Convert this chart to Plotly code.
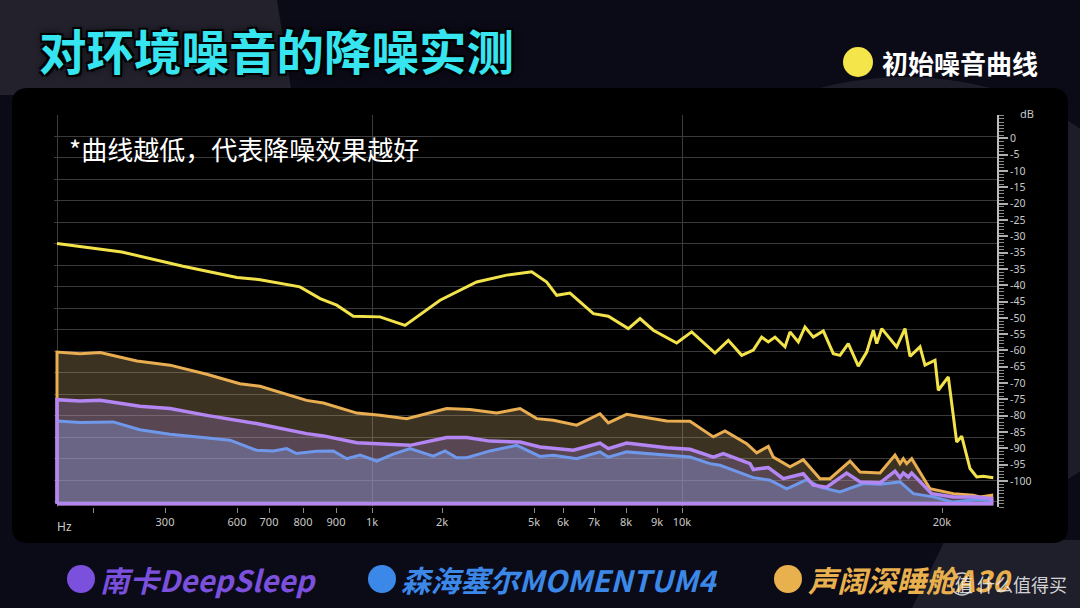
import numpy as np
import plotly.graph_objects as go

# ------------------------------------------------------------------ data
# frequencies (Hz) and levels (dB)
YELLOW_HZ = [100, 240, 375, 600, 672, 791, 852, 902, 948, 1114, 1472, 1972, 3131, 4109, 4924,
             5438, 5783, 6226, 6979, 7447, 8074, 8452, 8882, 9788, 10373, 11269, 11781, 12296,
             12742, 13065, 13319, 13577, 13962, 14154, 14473, 14731, 15050, 15435, 15820, 16077,
             16396, 16781, 17104, 17358, 17489, 17681, 18258, 18577, 18769, 19154, 19346, 19731,
             19858, 20458, 21069, 21432, 22036, 22523, 23003, 23730]
YELLOW_DB = [-27.2, -29.8, -34.2, -37.6, -38.3, -40.5, -44.1, -46.1, -49.5, -49.7, -52.3, -44.6,
             -39.0, -36.9, -35.9, -39.0, -43.1, -42.4, -48.7, -49.5, -53.3, -50.2, -53.8, -57.7,
             -54.3, -60.8, -56.9, -61.5, -59.9, -55.9, -57.4, -55.9, -58.9, -54.3, -57.4, -52.8,
             -55.9, -54.0, -61.0, -61.5, -57.9, -64.8, -60.5, -53.8, -57.9, -53.3, -58.9, -53.3,
             -61.8, -58.9, -64.5, -63.0, -72.2, -68.1, -88.1, -86.3, -96.2, -98.8, -98.6, -99.0]

ORANGE_HZ = [100, 164, 210, 261, 321, 474, 609, 672, 811, 862, 958, 1114, 1496, 2153, 2913,
             3784, 4544, 5093, 5666, 6442, 7188, 7447, 8022, 9388, 10308, 11204, 11654, 12488,
             12873, 13319, 13512, 14154, 14665, 15308, 15692, 16462, 16846, 17616, 18193, 18385,
             18512, 18642, 18835, 19538, 20822, 22276, 22763, 23614]
ORANGE_DB = [-60.5, -61.0, -60.6, -63.2, -64.5, -67.3, -70.2, -71.0, -75.3, -76.1, -79.2, -79.9,
             -80.9, -77.8, -78.1, -79.2, -77.8, -80.9, -81.4, -82.9, -79.4, -82.2, -79.6, -81.6,
             -81.7, -86.5, -84.7, -88.6, -91.4, -89.4, -92.7, -95.7, -93.5, -99.3, -99.3, -93.9,
             -97.3, -97.6, -92.1, -94.7, -93.2, -94.7, -93.2, -102.4, -103.9, -104.4, -104.9, -104.4]

PURPLE_HZ = [100, 164, 210, 265, 321, 474, 609, 661, 811, 862, 958, 1114, 1543, 2153, 2805,
             3565, 4544, 5207, 6333, 7188, 7447, 8022, 9388, 10308, 11204, 11589, 12615, 12742,
             13319, 13896, 14665, 15050, 15565, 16334, 16846, 17616, 18193, 18385, 18512, 18704,
             18835, 19604, 20822, 22523, 23614]
PURPLE_DB = [-75.1, -75.5, -75.3, -77.1, -77.8, -79.9, -81.6, -82.4, -85.5, -86.2, -88.3, -88.6,
             -89.1, -86.7, -86.7, -87.8, -88.1, -89.6, -90.6, -88.4, -90.1, -88.4, -89.8, -90.3,
             -92.7, -91.6, -94.7, -96.5, -95.9, -99.3, -97.8, -101.3, -101.9, -97.6, -100.3,
             -100.6, -97.0, -99.0, -97.6, -98.8, -97.6, -103.9, -104.9, -104.9, -105.4]

BLUE_HZ = [100, 164, 228, 265, 321, 446, 571, 661, 713, 752, 781, 841, 892, 930, 967, 1067,
           1304, 1543, 1876, 2098, 2479, 2805, 3565, 4435, 5207, 5666, 6442, 7188, 7447, 8022,
           9920, 10308, 11077, 11462, 12742, 13385, 14027, 14796, 15308, 16077, 16973, 17616,
           18385, 18897, 19666, 20822, 22523, 23614]
BLUE_DB = [-81.6, -82.1, -81.9, -84.3, -85.7, -86.7, -87.5, -90.6, -90.8, -90.1, -91.6, -90.9,
           -90.8, -93.2, -92.1, -93.9, -91.8, -90.1, -92.4, -90.8, -92.9, -92.9, -90.8, -89.1,
           -92.5, -92.1, -93.2, -91.1, -92.7, -91.1, -92.5, -92.7, -94.7, -95.2, -99.0, -99.8,
           -102.4, -99.6, -101.9, -103.4, -100.8, -101.0, -100.3, -103.9, -104.9, -106.5,
           -105.7, -106.2]

FLOOR_DB = -107.0  # baseline the filled areas close onto

X_TICK_HZ = [200, 300, 600, 700, 800, 900, 1000, 2000, 5000, 6000, 7000, 8000, 9000, 10000, 20000]
X_TICK_TEXT = ["", "300", "600", "700", "800", "900", "1k", "2k", "5k", "6k", "7k", "8k", "9k",
               "10k", "20k"]
GRID_HZ = [100, 1000, 10000]

Y_TICK_DB = [5, 0, -5, -10, -15, -20, -25, -30, -35, -40, -45, -50, -55, -60, -65, -70, -75,
             -80, -85, -90, -95, -100]
Y_TICK_TEXT = ["0", "-5", "-10", "-15", "-20", "-25", "-30", "-35", "-35", "-40", "-45", "-50",
               "-55", "-60", "-65", "-70", "-75", "-80", "-85", "-90", "-95", "-100"]

SERIES_NAMES = ["南卡DeepSleep", "森海塞尔MOMENTUM4", "声阔深睡舱A30"]
REF_NAME = "初始噪音曲线"
TITLE = "对环境噪音的降噪实测"
NOTE = "*曲线越低，代表降噪效果越好"
WATERMARK = "值 什么值得买"

# ------------------------------------------------------------------ frequency scale
# the chart's frequency axis is non-uniform: anchor frequencies and their axis positions
AX_HZ = [100, 200, 300, 600, 700, 800, 900, 1000, 2000, 5000, 6000, 7000, 8000, 9000, 10000,
         20000, 24000]
AX_POS = [0, 36, 108, 180, 212, 246, 279, 315, 385, 477, 506, 537, 569, 600, 625, 885, 940]


def fscale(hz):
    return np.interp(np.asarray(hz, dtype=float), AX_HZ, AX_POS)


def area(hz, db):
    xs = fscale(hz)
    x = np.concatenate([[xs[0]], xs, [xs[-1], xs[0]]])
    y = np.concatenate([[FLOOR_DB], db, [FLOOR_DB, FLOOR_DB]])
    return x, y


# ------------------------------------------------------------------ colours
C_YELLOW = "#f3e34b"
C_ORANGE = "#eaae52"
C_PURPLE = "#b386f3"
C_BLUE = "#6f97ea"
F_ORANGE = "rgba(200,165,110,0.30)"
F_PURPLE = "rgba(170,130,230,0.25)"
F_BLUE = "rgba(140,160,230,0.35)"

# ------------------------------------------------------------------ figure
fig = go.Figure()

ox, oy = area(ORANGE_HZ, ORANGE_DB)
fig.add_trace(go.Scatter(x=ox, y=oy, mode="lines", fill="toself", fillcolor=F_ORANGE,
                         line=dict(color=C_ORANGE, width=3), hoverinfo="skip"))
px_, py_ = area(PURPLE_HZ, PURPLE_DB)
fig.add_trace(go.Scatter(x=px_, y=py_, mode="lines", fill="toself", fillcolor=F_PURPLE,
                         line=dict(width=0), hoverinfo="skip"))
bx, by = area(BLUE_HZ, BLUE_DB)
fig.add_trace(go.Scatter(x=bx, y=by, mode="lines", fill="toself", fillcolor=F_BLUE,
                         line=dict(width=0), hoverinfo="skip"))
fig.add_trace(go.Scatter(x=fscale(BLUE_HZ), y=BLUE_DB, mode="lines",
                         line=dict(color=C_BLUE, width=3), hoverinfo="skip"))
fig.add_trace(go.Scatter(x=px_, y=py_, mode="lines",
                         line=dict(color=C_PURPLE, width=3.5), hoverinfo="skip"))
fig.add_trace(go.Scatter(x=fscale(YELLOW_HZ), y=YELLOW_DB, mode="lines",
                         line=dict(color=C_YELLOW, width=3), hoverinfo="skip"))
# carrier for the grid axes
fig.add_trace(go.Scatter(x=[None], y=[None], xaxis="x2", yaxis="y2", hoverinfo="skip"))

# layout geometry (pixels)
W, H = 1080, 608
ML, MR, MT, MB = 54, 83, 115, 101
PW, PH = W - ML - MR, H - MT - MB


def pxx(x):
    return (x - ML) / PW


def pyy(y):
    return (H - MB - y) / PH


GRID = "#3b3b3b"
TICKC = "#c9c9c9"

fig.update_layout(
    width=W, height=H,
    margin=dict(l=ML, r=MR, t=MT, b=MB),
    paper_bgcolor="#0b0a17",
    plot_bgcolor="rgba(0,0,0,0)",
    showlegend=False,
    xaxis=dict(range=[-3, 940], tickmode="array", tickvals=fscale(X_TICK_HZ),
               ticktext=X_TICK_TEXT, ticks="outside", ticklen=5, tickcolor="#8a8a8a",
               showgrid=False, zeroline=False, showline=False,
               tickfont=dict(family="Noto Sans", size=11, color=TICKC)),
    xaxis2=dict(range=[-3, 940], overlaying="x", tickmode="array", tickvals=fscale(GRID_HZ),
                showgrid=True, gridcolor=GRID, gridwidth=1, showticklabels=False, ticks="",
                zeroline=False, showline=False),
    yaxis=dict(range=[-108, 12.2], side="right", tickmode="array", tickvals=Y_TICK_DB,
               ticktext=Y_TICK_TEXT, ticks="outside", ticklen=9, tickwidth=1.5,
               tickcolor="#b0b0b0", showline=True, linecolor="#bdbdbd", linewidth=2,
               showgrid=False, zeroline=False,
               minor=dict(tickmode="linear", tick0=0, dtick=1, ticklen=5, tickcolor="#8a8a8a",
                          tickwidth=1, showgrid=False),
               tickfont=dict(family="Noto Sans", size=10.5, color=TICKC)),
    yaxis2=dict(range=[-0.25, 18], overlaying="y", side="left", tickmode="linear", tick0=0,
                dtick=1, showgrid=True, gridcolor=GRID, gridwidth=1, showticklabels=False,
                ticks="", zeroline=False, showline=False),
)

# ---------------------------------------------------------------- decoration shapes
shapes = []
shapes.append(dict(type="path", xref="paper", yref="paper", layer="below",
                   path=f"M {pxx(0)},{pyy(0)} L {pxx(277)},{pyy(0)} L {pxx(292)},{pyy(95)} "
                        f"L {pxx(0)},{pyy(95)} Z",
                   fillcolor="#22212c", line=dict(width=0)))
shapes.append(dict(type="circle", xref="paper", yref="paper", layer="below",
                   x0=pxx(631), x1=pxx(1179), y0=pyy(77), y1=pyy(523),
                   fillcolor="#1d1c29", line=dict(width=0)))
shapes.append(dict(type="path", xref="paper", yref="paper", layer="below",
                   path=f"M {pxx(912)},{pyy(608)} L {pxx(945)},{pyy(540)} L {pxx(1080)},{pyy(540)} "
                        f"L {pxx(1080)},{pyy(608)} Z",
                   fillcolor="#1f1e2b", line=dict(width=0)))
# black rounded panel
x0, x1, y0, y1, r = 12, 1068, 88, 543, 16
rx, ry = r / PW, r / PH
X0, X1, Y0, Y1 = pxx(x0), pxx(x1), pyy(y1), pyy(y0)
panel = (f"M {X0 + rx},{Y0} L {X1 - rx},{Y0} Q {X1},{Y0} {X1},{Y0 + ry} "
         f"L {X1},{Y1 - ry} Q {X1},{Y1} {X1 - rx},{Y1} L {X0 + rx},{Y1} "
         f"Q {X0},{Y1} {X0},{Y1 - ry} L {X0},{Y0 + ry} Q {X0},{Y0} {X0 + rx},{Y0} Z")
shapes.append(dict(type="path", xref="paper", yref="paper", layer="below", path=panel,
                   fillcolor="#000000", line=dict(width=0)))


def dot(cx, cy, rad, color):
    return dict(type="circle", xref="paper", yref="paper", xsizemode="pixel", ysizemode="pixel",
                xanchor=pxx(cx), yanchor=pyy(cy), x0=-rad, x1=rad, y0=-rad, y1=rad,
                fillcolor=color, line=dict(width=0), layer="above")


shapes.append(dot(858, 62, 15, "#f4e64a"))
shapes.append(dot(81, 579, 14, "#7a50dd"))
shapes.append(dot(382, 579, 14, "#3c88e8"))
shapes.append(dot(788, 579, 14, "#e9b04e"))
shapes.append(dict(type="circle", xref="paper", yref="paper", xsizemode="pixel",
                   ysizemode="pixel", xanchor=pxx(962), yanchor=pyy(584), x0=-11, x1=11,
                   y0=-11, y1=11, fillcolor="rgba(0,0,0,0)",
                   line=dict(color="rgba(235,235,235,0.85)", width=1.5), layer="above"))
fig.update_layout(shapes=shapes)

# ---------------------------------------------------------------- texts
CJK = "Noto Sans CJK SC"
ann = []
ann.append(dict(text=TITLE, x=pxx(37), y=pyy(49), xanchor="left", yanchor="middle",
                font=dict(family=CJK, size=47.5, color="#36e5ef", weight="bold",
                          shadow="2px 2px 0 #000, -2px -2px 0 #000, 2px -2px 0 #000, "
                                 "-2px 2px 0 #000, 0 0 8px rgba(0,0,0,0.9)")))
ann.append(dict(text=REF_NAME, x=pxx(880), y=pyy(62), xanchor="left", yanchor="middle",
                font=dict(family=CJK, size=26, color="#ffffff", weight="bold")))
ann.append(dict(text=NOTE, x=pxx(67), y=pyy(148), xanchor="left", yanchor="middle",
                font=dict(family=CJK, size=26, color="#ffffff")))
ann.append(dict(text="Hz", x=pxx(55), y=pyy(526), xanchor="left", yanchor="middle",
                font=dict(family="Noto Sans", size=12, color=TICKC)))
ann.append(dict(text="dB", x=pxx(1018), y=pyy(113), xanchor="left", yanchor="middle",
                font=dict(family="Noto Sans", size=11, color=TICKC)))
legend_pos = [(98, "#7a50dd"), (399, "#3c88e8"), (806, "#e9b04e")]
for name, (lx, col) in zip(SERIES_NAMES, legend_pos):
    ann.append(dict(text=name, x=pxx(lx), y=pyy(579), xanchor="left", yanchor="middle",
                    font=dict(family=CJK, size=29.5, color=col, weight="bold", style="italic")))
ann.append(dict(text=WATERMARK, x=pxx(953), y=pyy(584), xanchor="left", yanchor="middle",
                font=dict(family=CJK, size=18, color="rgba(235,235,235,0.9)")))
for a in ann:
    a.update(xref="paper", yref="paper", showarrow=False)
fig.update_layout(annotations=ann)

fig.write_html("out.html")
